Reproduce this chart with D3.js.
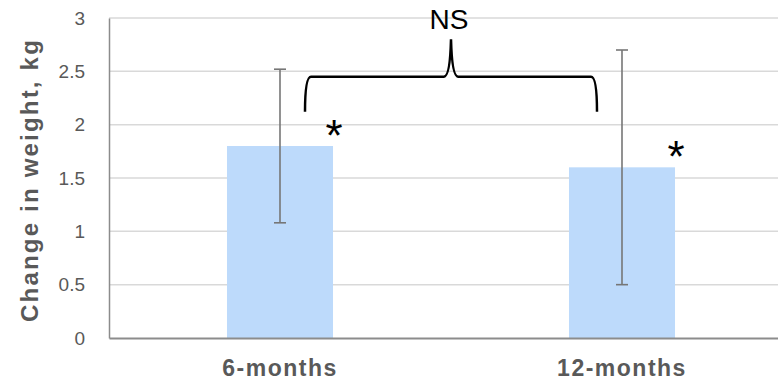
<!DOCTYPE html>
<html>
<head>
<meta charset="utf-8">
<script src="https://cdn.jsdelivr.net/npm/d3@7"></script>
<style>
  html, body { margin: 0; padding: 0; background: #fff; }
  svg { display: block; font-family: "Liberation Sans", Arial, sans-serif; }
</style>
</head>
<body>
<div id="chart"></div>
<script>
// data
const categories = ['6-months', '12-months'];
const means = [1.8, 1.6];
const errors = [0.72, 1.1];
const yTicks = [0, 0.5, 1, 1.5, 2, 2.5, 3];
const tickLabels = ['0', '0.5', '1', '1.5', '2', '2.5', '3'];
const sigMarks = ['*', '*'];
const bracketLabel = 'NS';

const width = 778, height = 384;
const margin = { top: 18, right: -15, bottom: 46, left: 109 };
const innerW = width - margin.left - margin.right;
const innerH = height - margin.top - margin.bottom;

const svg = d3.select('#chart').append('svg')
  .attr('width', width)
  .attr('height', height);

const g = svg.append('g')
  .attr('transform', `translate(${margin.left},${margin.top})`);

const x = d3.scaleBand()
  .domain(categories)
  .range([0, innerW])
  .paddingInner(0.69)
  .paddingOuter(0.345);

const y = d3.scaleLinear()
  .domain([0, 3])
  .range([innerH, 0]);

// grid lines
g.append('g')
  .selectAll('line')
  .data(yTicks.filter(d => d > 0))
  .enter().append('line')
  .attr('x1', 0)
  .attr('x2', innerW)
  .attr('y1', d => y(d))
  .attr('y2', d => y(d))
  .attr('stroke', '#d9d9d9')
  .attr('stroke-width', 1.5);

// y axis
const yAxis = g.append('g')
  .call(d3.axisLeft(y).tickValues(yTicks).tickFormat((d, i) => tickLabels[i]).tickSize(0).tickPadding(24));
yAxis.select('.domain').attr('stroke', '#8c8c8c').attr('stroke-width', 1.5);
yAxis.selectAll('text')
  .attr('fill', '#595959')
  .style('font-size', '19px');

// bars
const cx = d => x(d) + x.bandwidth() / 2;
g.selectAll('.bar')
  .data(categories)
  .enter().append('rect')
  .attr('class', 'bar')
  .attr('x', d => x(d))
  .attr('width', x.bandwidth())
  .attr('y', (d, i) => y(means[i]))
  .attr('height', (d, i) => innerH - y(means[i]))
  .attr('fill', '#bddafb');

// x axis baseline
const xAxis = g.append('g')
  .attr('transform', `translate(0,${innerH})`)
  .call(d3.axisBottom(x).tickSize(0).tickPadding(22));
xAxis.select('.domain').attr('stroke', '#8c8c8c').attr('stroke-width', 2);
xAxis.selectAll('text')
  .attr('fill', '#595959')
  .attr('dy', '0.68em')
  .style('font-size', '23px')
  .style('font-weight', 'bold')
  .style('letter-spacing', '1.5px');

// error bars
const eb = g.selectAll('.err')
  .data(categories)
  .enter().append('g')
  .attr('stroke', '#767676')
  .attr('stroke-width', 1.6);
eb.append('line')
  .attr('x1', cx).attr('x2', cx)
  .attr('y1', (d, i) => y(means[i] + errors[i]))
  .attr('y2', (d, i) => y(means[i] - errors[i]));
eb.append('line')
  .attr('x1', d => cx(d) - 6).attr('x2', d => cx(d) + 6)
  .attr('y1', (d, i) => y(means[i] + errors[i]))
  .attr('y2', (d, i) => y(means[i] + errors[i]));
eb.append('line')
  .attr('x1', d => cx(d) - 6).attr('x2', d => cx(d) + 6)
  .attr('y1', (d, i) => y(means[i] - errors[i]))
  .attr('y2', (d, i) => y(means[i] - errors[i]));

// significance asterisks
g.selectAll('.sig')
  .data(categories)
  .enter().append('text')
  .attr('x', d => x(d) + x.bandwidth() + 1)
  .attr('y', (d, i) => y(means[i]) + 5)
  .attr('text-anchor', 'middle')
  .style('font-size', '44px')
  .attr('fill', '#000')
  .text((d, i) => sigMarks[i]);

// curly bracket between groups
const bx0 = cx(categories[0]) + 25;
const bx1 = cx(categories[1]) - 25;
const bm = (bx0 + bx1) / 2;
const yb = y(2.12), yh = y(2.45), yt = y(2.8);
const r = 6;
const brace = d3.path();
brace.moveTo(bx0, yb);
brace.quadraticCurveTo(bx0, yh, bx0 + r, yh);
brace.lineTo(bm - 7, yh);
brace.quadraticCurveTo(bm - 1, yh, bm, yt);
brace.quadraticCurveTo(bm + 1, yh, bm + 7, yh);
brace.lineTo(bx1 - r, yh);
brace.quadraticCurveTo(bx1, yh, bx1, yb);
g.append('path')
  .attr('d', brace.toString())
  .attr('fill', 'none')
  .attr('stroke', '#000')
  .attr('stroke-width', 2.5);

g.append('text')
  .attr('x', bm - 2)
  .attr('y', y(2.9))
  .attr('text-anchor', 'middle')
  .style('font-size', '28px')
  .attr('fill', '#000')
  .text(bracketLabel);

// y axis title
svg.append('text')
  .attr('transform', `translate(38,${margin.top + innerH / 2 + 2}) rotate(-90)`)
  .attr('text-anchor', 'middle')
  .attr('fill', '#595959')
  .style('font-size', '24px')
  .style('font-weight', 'bold')
  .style('letter-spacing', '2.2px')
  .text('Change in weight, kg');
</script>
</body>
</html>
